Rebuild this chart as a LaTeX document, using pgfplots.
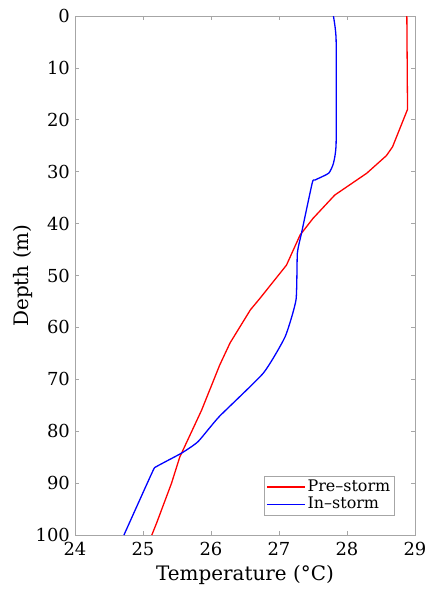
\documentclass[border=0pt]{standalone}
\usepackage{pgfplots}
\pgfplotsset{compat=1.18}
\usetikzlibrary{calc}
\usepackage{fontspec}
\setmainfont{DejaVu Serif}
\begin{document}
\fontsize{18}{21}\selectfont
\begin{tikzpicture}[x=1bp,y=1bp]
\begin{axis}[
    scale only axis,
    width=340bp, height=519bp,
    xmin=24, xmax=29, ymin=0, ymax=100,
    y dir=reverse,
    xtick={24,25,...,29}, ytick={0,10,...,100},
    /pgf/number format/assume math mode=true,
    ticklabel style={font=\fontsize{18}{21}\selectfont},
    label style={font=\fontsize{20}{24}\selectfont},
    xlabel={Temperature (°C)},
    ylabel={Depth (m)},
    tick align=inside,
    major tick length=4bp,
    axis line style={gray!70, line width=0.8bp},
    every tick/.style={gray!70, line width=0.8bp},
    xticklabel style={yshift=-1bp},
    yticklabel style={xshift=1bp},
    xlabel style={yshift=3bp},
    ylabel style={yshift=-9bp},
    legend cell align=left,
    legend style={draw=gray!70, line width=0.6bp, inner sep=2bp,
        at={(0.94,0.037)}, anchor=south east,
        font=\fontsize{16}{18}\selectfont, row sep=-1bp},
    legend image code/.code={\draw[#1] (0bp,0bp) -- (38bp,0bp);},
]
\coordinate (sw) at (rel axis cs:0,0);
\coordinate (ne) at (rel axis cs:1,1);
\addplot[red, line width=1.3bp] coordinates {
    (28.88,0) (28.89,18) (28.67,25.2) (28.58,26.9) (28.29,30.3)
    (27.82,34.5) (27.50,39) (27.31,42.2) (27.11,48) (26.72,54.4)
    (26.58,56.6) (26.28,63) (26.13,67.2) (25.86,76) (25.54,85)
    (25.42,90) (25.20,97.7) (25.13,100)
};
\addlegendentry{Pre–storm}
\addplot[blue, line width=1.3bp, smooth, tension=0.3] coordinates {
    (27.80,0) (27.84,4.6) (27.84,24.5) (27.80,28.4) (27.73,30.3)
    (27.53,31.6) (27.49,32.1) (27.33,41.9) (27.27,45.7) (27.25,54.7)
    (27.09,61.8) (26.77,68.8) (26.12,77.2) (25.81,82) (25.57,84.2)
    (25.20,86.8) (25.14,87.8) (24.72,100)
};
\addlegendentry{In–storm}
\end{axis}
\pgfresetboundingbox
\path ($(sw)+(-75bp,-55bp)$) rectangle ($(ne)+(12bp,16bp)$);
\end{tikzpicture}
\end{document}
